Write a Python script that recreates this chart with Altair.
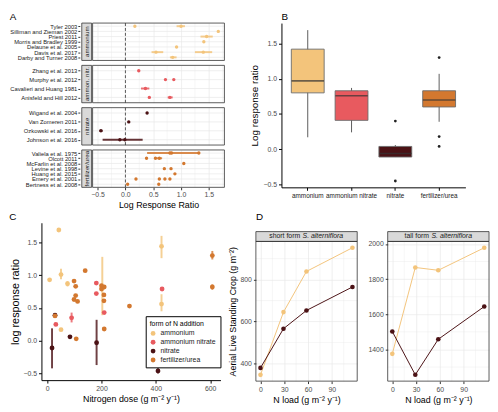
import altair as alt
import pandas as pd

FONT = "Liberation Sans"
GROUPS = ["ammonium", "ammonium nitrate", "nitrate", "fertilizer/urea"]
COLORS = ["#F3C47B", "#E85A5F", "#4B1215", "#D3782F"]
STRIP_LABELS = ["ammonium", "ammon. nitr.", "nitrate", "fertilizer/urea"]

# ---------------- Panel A data (study-level log response ratios)
a_group = (["ammonium"] * 9 + ["ammonium nitrate"] * 6 + ["nitrate"] * 5
           + ["fertilizer/urea"] * 16)
a_study = [
    "Tyler 2003", "Tyler 2003", "Silliman and Zieman 2002", "Priest 2011",
    "Morris and Bradley 1999", "Delaune et al. 2005", "Davis et al. 2017",
    "Davis et al. 2017", "Darby and Turner 2008",
    "Zhang et al. 2013", "Murphy et al. 2012", "Murphy et al. 2012",
    "Cavalieri and Huang 1981", "Anisfeld and Hill 2012", "Anisfeld and Hill 2012",
    "Wigand et al. 2004", "Van Zomeren 2011", "Ozkowski et al. 2016",
    "Johnson et al. 2016", "Johnson et al. 2016",
    "Valiela et al. 1975", "Valiela et al. 1975", "Valiela et al. 1975",
    "Olcott 2011", "Olcott 2011", "Olcott 2011", "McFarlin et al. 2008",
    "Levine et al. 1998", "Levine et al. 1998", "Huang et al. 2015",
    "Emery et al. 2001", "Emery et al. 2001", "Emery et al. 2001", "Emery et al. 2001",
    "Bertness et al. 2008", "Bertness et al. 2008",
]
a_lrr = [0.17, 1.00, 1.67, 1.46, 1.41, 0.92, 0.55, 1.40, 0.85,
         0.24, 0.72, 0.87, 0.36, 0.43, 0.80,
         0.39, 0.06, -0.44, -0.10, -0.01,
         0.80, 0.83, 1.32, 0.38, 0.54, 0.61, 1.05, 0.70, 0.82, 0.89,
         0.19, 0.61, 0.71, 0.80, 0.04, 0.60]
a_lo = [None, 0.92, None, 1.35, None, None, 0.47, 1.25, 0.80,
        None, None, None, 0.28, None, 0.76,
        None, None, -0.47, -0.41, None,
        0.39, None, None, None, None, 0.56, None, None, None, None,
        None, None, None, None, None, None]
a_hi = [None, 1.07, None, 1.57, None, None, 0.68, 1.56, 0.92,
        None, None, None, 0.43, None, 0.85,
        None, None, -0.41, 0.31, None,
        1.33, None, None, None, None, 0.66, None, None, None, None,
        None, None, None, None, None, None]
a_major = [-0.5, 0.0, 0.5, 1.0, 1.5]
a_minor = [-0.25, 0.25, 0.75, 1.25, 1.75]

# ---------------- Panel B data (box statistics)
b_lo = [0.17, 0.24, -0.11, 0.39]
b_q1 = [0.80, 0.41, -0.11, 0.60]
b_med = [0.97, 0.76, -0.06, 0.70]
b_q3 = [1.42, 0.83, 0.04, 0.83]
b_hi = [1.69, 0.87, 0.06, 1.07]
b_out_group = ["nitrate", "nitrate", "fertilizer/urea", "fertilizer/urea", "fertilizer/urea"]
b_out_val = [0.40, -0.45, 1.30, 0.18, 0.04]

# ---------------- Panel C data (dose vs response)
c_group = (["ammonium"] * 8 + ["ammonium nitrate"] * 6 + ["nitrate"] * 5
           + ["fertilizer/urea"] * 17)
c_dose = [9, 43, 51, 75, 51, 421, 421, 203,
          181, 181, 32, 90, 210, 423,
          18, 29, 84, 182, 408,
          29, 99, 105, 105, 99, 112, 107, 140, 200, 200, 210, 209, 209, 210, 303, 608, 608]
c_lrr = [0.93, 1.69, 1.01, 0.87, 0.17, 1.44, 0.56, 0.80,
         0.88, 0.72, 0.25, 0.35, 0.43, 0.79,
         -0.11, 0.39, 0.06, -0.03, -0.46,
         0.38, 0.91, 0.83, 0.69, 0.63, 0.60, 0.03, 1.07, 0.84, 0.79, 0.82, 0.70, 0.61,
         0.18, 0.53, 1.30, 0.82]
c_lo = [None, None, 0.94, 0.83, None, 1.26, 0.45, 0.39,
        None, None, None, 0.28, None, None,
        -0.42, None, None, -0.37, -0.50,
        None, None, None, None, None, None, None, None, None, None, None, None, None,
        None, None, 1.24, 0.78]
c_hi = [None, None, 1.10, 0.91, None, 1.60, 0.71, 1.28,
        None, None, None, 0.43, None, None,
        0.19, None, None, 0.32, -0.42,
        None, None, None, None, None, None, None, None, None, None, None, None, None,
        None, None, 1.37, 0.86]

# ---------------- Panel D data (standing crop vs N load)
d_nload = [0, 29, 58, 116]
d_short_ammonium = [346, 645, 839, 952]
d_short_nitrate = [379, 566, 653, 765]
d_tall_ammonium = [1375, 1866, 1850, 1978]
d_tall_nitrate = [1502, 1256, 1458, 1644]

cscale = alt.Scale(domain=GROUPS, range=COLORS)
GRID = "#E8E8E8"
LABC = "#4D4D4D"
one = pd.DataFrame({"k": [0]})


def border(w, h):
    return alt.Chart(one).mark_rect(filled=False, stroke="#333333", strokeWidth=0.8).encode(
        x=alt.value(0), x2=alt.value(w), y=alt.value(0), y2=alt.value(h))


def letter(s, frame, offset):
    return alt.TitleParams(s, anchor="start", frame=frame, fontSize=10,
                           fontWeight="normal", offset=offset)


def spacer(**kw):
    return alt.Chart(one).mark_rect(opacity=0).encode(
        x=alt.value(0), x2=alt.value(1), y=alt.value(0), y2=alt.value(1)).properties(
        width=1, height=1, **kw)


# ================= Panel A
A_W, A_H = 134, 38
dfA = pd.DataFrame(dict(group=a_group, study=a_study, lrr=a_lrr, lo=a_lo, hi=a_hi))
xA = alt.Scale(domain=[-0.59, 1.78], nice=False, zero=False)


def a_panel(i):
    g = GROUPS[i]
    d = dfA[dfA.group == g]
    order = list(dict.fromkeys(d.study))
    last = i == 3
    yscale = alt.Scale(type="point", domain=order, padding=0.6)
    ax = dict(values=a_major, format=".1f", grid=True, gridColor=GRID, gridWidth=0.7,
              domain=False, labelFontSize=7, labelColor=LABC, tickColor="#333333",
              tickSize=2.5, labelPadding=1, titleFontSize=9, titleFontWeight="normal",
              titleColor="black", titlePadding=3, labelOverlap=False)
    if last:
        ax["title"] = "Log Response Ratio"
    else:
        ax.update(labels=False, ticks=False, title="")
    xax = alt.Axis(**ax)
    yax = alt.Axis(title=None, offset=13, domain=False, grid=False,
                   labelFontSize=5.9, labelColor="#1A1A1A", tickSize=2,
                   tickColor="#333333", labelPadding=1, labelLimit=120, labelOverlap=False)
    minor = alt.Chart(pd.DataFrame({"v": a_minor})).mark_rule(color=GRID, strokeWidth=0.4).encode(
        x=alt.X("v:Q", scale=xA, axis=xax))
    hgrid = alt.Chart(pd.DataFrame({"study": order})).mark_rule(color=GRID, strokeWidth=0.7).encode(
        y=alt.Y("study:N", scale=yscale, sort=order, axis=yax))
    zero = alt.Chart(one).mark_rule(strokeDash=[3, 2], color="#555555", strokeWidth=1).encode(
        x=alt.X("k:Q", scale=xA, axis=xax))
    bars = alt.Chart(d.dropna()).mark_rule(strokeWidth=2, opacity=0.85).encode(
        x=alt.X("lo:Q", scale=xA, axis=xax), x2="hi:Q",
        y=alt.Y("study:N", scale=yscale, sort=order, axis=yax),
        color=alt.Color("group:N", scale=cscale, legend=None))
    pts = alt.Chart(d).mark_circle(size=12, opacity=1).encode(
        x=alt.X("lrr:Q", scale=xA, axis=xax),
        y=alt.Y("study:N", scale=yscale, sort=order, axis=yax),
        color=alt.Color("group:N", scale=cscale, legend=None))
    sdf = pd.DataFrame({"lab": [STRIP_LABELS[i]]})
    strip = alt.Chart(sdf).mark_rect(fill="#D9D9D9", stroke="#333333", strokeWidth=0.8).encode(
        x=alt.value(-11), x2=alt.value(-1), y=alt.value(0), y2=alt.value(A_H))
    stext = alt.Chart(sdf).mark_text(angle=270, fontSize=6.3, color="#1A1A1A").encode(
        x=alt.value(-6), y=alt.value(A_H / 2), text="lab:N")
    return alt.layer(minor, hgrid, zero, bars, pts, strip, stext, border(A_W, A_H)).properties(
        width=A_W, height=A_H)


panelA = alt.vconcat(*[a_panel(i) for i in range(4)], spacing=3).properties(
    title=letter("A", "bounds", 1))

# ================= Panel B
B_W, B_H = 187, 167
dfB = pd.DataFrame(dict(group=GROUPS, lo=b_lo, q1=b_q1, med=b_med, q3=b_q3, hi=b_hi))
dfBo = pd.DataFrame(dict(group=b_out_group, val=b_out_val))
yB = alt.Scale(domain=[-0.54, 1.79], nice=False, zero=False)
xBs = alt.Scale(type="band", domain=GROUPS, paddingInner=0.25, paddingOuter=0.225)
xB_axis = alt.Axis(title=None, labelAngle=0, labelFontSize=6.5, labelColor="#1A1A1A",
                   domainColor="black", tickColor="black", tickSize=3, labelPadding=2,
                   labelOverlap=False)
yB_axis = alt.Axis(title="Log response ratio", values=a_major, format=".1f", labelFontSize=7,
                   labelColor=LABC, domainColor="black", tickColor="black", tickSize=3,
                   titleFontSize=10, titleFontWeight="normal", titleColor="black",
                   grid=False, titlePadding=4, labelOverlap=False)
xBenc = alt.X("group:N", scale=xBs, axis=xB_axis, sort=GROUPS)
whisk = alt.Chart(dfB).mark_rule(color="#333333", strokeWidth=0.8).encode(
    x=xBenc, y=alt.Y("lo:Q", scale=yB, axis=yB_axis), y2="hi:Q")
box = alt.Chart(dfB).mark_bar(stroke="#6B6B6B", strokeWidth=0.9).encode(
    x=xBenc, y=alt.Y("q1:Q", scale=yB, axis=yB_axis), y2="q3:Q",
    color=alt.Color("group:N", scale=cscale, legend=None))
med = alt.Chart(dfB).mark_tick(color="#333333", thickness=1.6, size=33).encode(
    x=xBenc, y=alt.Y("med:Q", scale=yB, axis=yB_axis))
outl = alt.Chart(dfBo).mark_circle(color="#222222", size=8, opacity=1).encode(
    x=xBenc, y=alt.Y("val:Q", scale=yB, axis=yB_axis))
panelB = alt.layer(whisk, box, med, outl).properties(
    width=B_W, height=B_H, title=letter("B", "group", 1))

# ================= Panel C
C_W, C_H = 182, 160
dfC = pd.DataFrame(dict(group=c_group, dose=c_dose, lrr=c_lrr, lo=c_lo, hi=c_hi))
xC = alt.Scale(domain=[-21, 638], nice=False, zero=False)
yC = alt.Scale(domain=[-0.6, 1.8], nice=False, zero=False)
xC_axis = alt.Axis(values=[0, 200, 400, 600], title="Nitrogen dose (g m⁻² y⁻¹)",
                   labelFontSize=7, labelColor=LABC, domainColor="black",
                   tickColor="black", tickSize=3, titleFontSize=9,
                   titleFontWeight="normal", titleColor="black", grid=False,
                   titlePadding=3, labelOverlap=False)
yC_axis = alt.Axis(values=a_major, format=".1f", title="log response ratio",
                   labelFontSize=7, labelColor=LABC, domainColor="black",
                   tickColor="black", tickSize=3, titleFontSize=11,
                   titleFontWeight="normal", titleColor="black", grid=False,
                   titlePadding=3, labelOverlap=False)
cbars = []
for gname, gcol in zip(GROUPS, COLORS):
    sub = dfC[dfC.group == gname].dropna()
    cbars.append(alt.Chart(sub).mark_rule(strokeWidth=2, opacity=0.8, color=gcol).encode(
        x=alt.X("dose:Q", scale=xC, axis=xC_axis),
        y=alt.Y("lo:Q", scale=yC, axis=yC_axis), y2="hi:Q"))
cpts = alt.Chart(dfC).mark_circle(size=24, opacity=1).encode(
    x=alt.X("dose:Q", scale=xC, axis=xC_axis),
    y=alt.Y("lrr:Q", scale=yC, axis=yC_axis),
    color=alt.Color("group:N", scale=cscale,
                    legend=alt.Legend(title="form of N addition", orient="none",
                                      legendX=106, legendY=95, strokeColor="black",
                                      fillColor="white", padding=4, titleFontSize=7,
                                      labelFontSize=7, titleFontWeight="normal",
                                      symbolType="circle", symbolSize=24,
                                      rowPadding=1, titlePadding=3, labelColor="#1A1A1A")))
panelC = alt.layer(*cbars, cpts).properties(
    width=C_W, height=C_H, title=letter("C", "bounds", 1))

# ================= Panel D
D_W, D_H = 103, 142


def d_panel(amm, nit, ydom, yvals, yminor, title_pre, ytitle):
    d = pd.DataFrame(dict(nload=d_nload * 2, crop=amm + nit,
                          group=["ammonium"] * 4 + ["nitrate"] * 4))
    xs = alt.Scale(domain=[-5.8, 122], nice=False, zero=False)
    ys = alt.Scale(domain=ydom, nice=False, zero=False)
    yax = dict(values=yvals, format="d", labelFontSize=7, labelColor=LABC,
               tickColor="#333333", tickSize=2.5, domain=False, grid=True, gridColor=GRID,
               gridWidth=0.7, titleFontSize=9, titleFontWeight="normal", titleColor="black",
               titlePadding=3, labelOverlap=False)
    yax["title"] = ytitle
    yax = alt.Axis(**yax)
    xax = alt.Axis(values=[0, 30, 60, 90], labelFontSize=7, labelColor=LABC,
                   tickColor="#333333", tickSize=2.5, domain=False, grid=True,
                   gridColor=GRID, gridWidth=0.7, title="N load (g m⁻² y⁻¹)",
                   titleFontSize=9, titleFontWeight="normal", titleColor="black",
                   titlePadding=3, labelOverlap=False)
    mx = alt.Chart(pd.DataFrame({"v": [15, 45, 75, 105]})).mark_rule(
        color=GRID, strokeWidth=0.4).encode(x=alt.X("v:Q", scale=xs, axis=xax))
    my = alt.Chart(pd.DataFrame({"w": yminor})).mark_rule(
        color=GRID, strokeWidth=0.4).encode(y=alt.Y("w:Q", scale=ys, axis=yax))
    line = alt.Chart(d).mark_line(strokeWidth=1).encode(
        x=alt.X("nload:Q", scale=xs, axis=xax),
        y=alt.Y("crop:Q", scale=ys, axis=yax),
        color=alt.Color("group:N", scale=cscale, legend=None))
    pts = alt.Chart(d).mark_circle(size=22, opacity=1).encode(
        x=alt.X("nload:Q", scale=xs, axis=xax),
        y=alt.Y("crop:Q", scale=ys, axis=yax),
        color=alt.Color("group:N", scale=cscale, legend=None))
    sdf = pd.DataFrame({"a": [title_pre], "b": ["S. alterniflora"]})
    strip = alt.Chart(sdf).mark_rect(fill="#D9D9D9", stroke="#333333", strokeWidth=0.8).encode(
        x=alt.value(0), x2=alt.value(D_W), y=alt.value(-10), y2=alt.value(0))
    split = 46 if title_pre == "short form" else 43
    t1 = alt.Chart(sdf).mark_text(align="right", fontSize=7, color="#1A1A1A").encode(
        x=alt.value(split - 1), y=alt.value(-5), text="a:N")
    t2 = alt.Chart(sdf).mark_text(align="left", fontSize=7, fontStyle="italic",
                                  color="#1A1A1A").encode(
        x=alt.value(split + 1.5), y=alt.value(-5), text="b:N")
    return alt.layer(mx, my, line, pts, strip, t1, t2, border(D_W, D_H)).properties(
        width=D_W, height=D_H)


D1 = d_panel(d_short_ammonium, d_short_nitrate, [316, 982], [400, 600, 800],
             [500, 700, 900], "short form", "Aerial Live Standing Crop (g m⁻²)")
D2 = d_panel(d_tall_ammonium, d_tall_nitrate, [1220, 2014], [1400, 1600, 1800, 2000],
             [1300, 1500, 1700, 1900], "tall form", "")
panelD = alt.vconcat(spacer(title=letter("D", "group", 1)),
                     alt.hconcat(D1, D2, spacing=9), spacing=7)

top = alt.hconcat(spacer(), alt.hconcat(panelA, panelB, spacing=24), spacing=0)
row2 = alt.hconcat(panelC, panelD, spacing=6).resolve_legend(color="independent")
bottom = alt.hconcat(spacer(), row2, spacing=0).resolve_legend(color="independent")
chart = alt.vconcat(top, bottom, spacing=2).resolve_legend(color="independent").properties(
    padding=0).configure(font=FONT).configure_view(strokeWidth=0).configure_title(color="black")

chart.save("out.html", embed_options={"renderer": "svg", "actions": False})
